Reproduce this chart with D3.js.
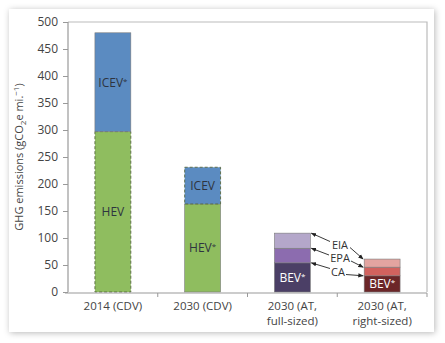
<!DOCTYPE html>
<html>
<head>
<meta charset="utf-8">
<script src="https://cdn.jsdelivr.net/npm/d3@7"></script>
<style>
  body { margin: 0; background: #fff; }
  svg { display: block; font-family: "Open Sans", sans-serif; }
</style>
</head>
<body>
<script>
const categories = ["2014 (CDV)", "2030 (CDV)", "2030 (AT, full-sized)", "2030 (AT, right-sized)"];
// stacked pieces, bottom to top
const baseValues = [297, 163, 54, 30];
const midValues = [183, 68, 27, 16];
const topValues = [0, 0, 28, 15];
const baseLabels = ["HEV", "HEV*", "BEV*", "BEV*"];
const midLabels = ["ICEV*", "ICEV", "", ""];
const yTicks = [0, 50, 100, 150, 200, 250, 300, 350, 400, 450, 500];
const gridLabels = ["EIA", "EPA", "CA"];

const colors = {
  base: ["#8fbd5f", "#8fbd5f", "#4b3f66", "#6c2628"],
  mid: ["#5b8bc1", "#5b8bc1", "#8c6caf", "#d2625e"],
  top: ["none", "none", "#b4a7ca", "#e3a4a0"]
};
const dashed = {
  base: [true, false, false, false],
  mid: [false, true, false, false],
  top: [false, false, false, false]
};

const W = 445, H = 343;
const svg = d3.select('body').append('svg').attr('width', W).attr('height', H);

// panel with shadow
const defs = svg.append('defs');
const f = defs.append('filter').attr('id', 'sh').attr('x', '-5%').attr('y', '-5%').attr('width', '110%').attr('height', '110%');
f.append('feDropShadow').attr('dx', 1).attr('dy', 1).attr('stdDeviation', 3).attr('flood-color', '#000').attr('flood-opacity', 0.28);
defs.append('marker').attr('id', 'ah').attr('viewBox', '0 0 10 10').attr('refX', 9).attr('refY', 5)
  .attr('markerWidth', 6).attr('markerHeight', 6).attr('orient', 'auto')
  .append('path').attr('d', 'M0,1 L10,5 L0,9 Z').attr('fill', '#222');

svg.append('rect').attr('x', 9).attr('y', 9).attr('width', 425).attr('height', 323)
  .attr('fill', '#fff').attr('filter', 'url(#sh)');

const pLeft = 68, pRight = 427, pTop = 22, pBottom = 292;
const x = d3.scaleBand().domain(categories).range([pLeft, pRight]).paddingInner(0.6).paddingOuter(0.3);
const y = d3.scaleLinear().domain([0, 500]).range([pBottom, pTop]);

const rows = categories.map((c, i) => ({ cat: c, i: i, base: baseValues[i], mid: midValues[i], top: topValues[i] }));
const stack = d3.stack().keys(['base', 'mid', 'top'])(rows);

// frame top and right
svg.append('path').attr('d', `M${pLeft},${pTop}H${pRight}V${pBottom}`).attr('fill', 'none').attr('stroke', '#bbb').attr('stroke-width', 1.2);

// bars
stack.forEach(layer => {
  svg.append('g').selectAll('rect')
    .data(layer.filter(d => d[1] > d[0]))
    .enter().append('rect')
    .attr('x', d => x(d.data.cat))
    .attr('width', x.bandwidth())
    .attr('y', d => y(d[1]))
    .attr('height', d => y(d[0]) - y(d[1]))
    .attr('fill', d => colors[layer.key][d.data.i])
    .attr('stroke', d => dashed[layer.key][d.data.i] ? '#56663f' : '#7a7a7a')
    .attr('stroke-width', d => dashed[layer.key][d.data.i] ? 0.9 : 0.6)
    .attr('stroke-dasharray', d => dashed[layer.key][d.data.i] ? '3,2' : null);
});

// labels inside bars
function starLabel(sel, txt) {
  if (txt.endsWith('*')) {
    sel.text(txt.slice(0, -1));
    sel.append('tspan').attr('font-size', '8px').attr('dy', '-3').text('*');
  } else sel.text(txt);
}
const inner = [
  { layer: stack[0], labels: baseLabels },
  { layer: stack[1], labels: midLabels }
];
inner.forEach(o => {
  o.layer.forEach((d, i) => {
    if (!o.labels[i]) return;
    const dark = i >= 2;
    const t = svg.append('text')
      .attr('x', x(d.data.cat) + x.bandwidth() / 2)
      .attr('y', (y(d[0]) + y(d[1])) / 2 + 4.5)
      .attr('text-anchor', 'middle')
      .attr('font-size', '12px')
      .attr('fill', dark ? '#fff' : '#2e3440');
    starLabel(t, o.labels[i]);
  });
});

// y axis
const yAxis = d3.axisLeft(y).tickValues(yTicks).tickSize(5).tickPadding(5);
const gy = svg.append('g').attr('transform', `translate(${pLeft},0)`).call(yAxis);
gy.select('.domain').attr('stroke', '#999').attr('stroke-width', 1.2).attr('d', `M0,${pTop}V${pBottom}`);
gy.selectAll('.tick line').attr('stroke', '#999');
gy.selectAll('.tick text').attr('font-size', '12px').attr('fill', '#444').attr('font-family', '"Open Sans", sans-serif');

// x axis
svg.append('line').attr('x1', pLeft - 3).attr('x2', pRight).attr('y1', pBottom + 1).attr('y2', pBottom + 1)
  .attr('stroke', '#999').attr('stroke-width', 1.2);
const bounds = categories.map(c => x(c) + x.bandwidth() + x.step() * x.paddingInner() / 2);
svg.append('g').selectAll('line').data(bounds).enter().append('line')
  .attr('x1', d => d).attr('x2', d => d).attr('y1', pBottom + 1).attr('y2', pBottom + 5)
  .attr('stroke', '#999');
categories.forEach(c => {
  const parts = c.includes(', ') ? [c.split(', ')[0] + ',', c.split(', ')[1]] : [c];
  parts.forEach((p, k) => {
    svg.append('text').attr('text-anchor', 'middle').attr('font-size', '11.5px').attr('fill', '#444')
      .attr('x', x(c) + x.bandwidth() / 2).attr('y', pBottom + 18 + k * 14.5).text(p);
  });
});

// y label
const yl = svg.append('text')
  .attr('transform', `translate(23,${(pTop + pBottom) / 2}) rotate(-90)`)
  .attr('text-anchor', 'middle').attr('font-size', '11px').attr('fill', '#444');
yl.append('tspan').text('GHG emissions (gCO');
yl.append('tspan').attr('font-size', '8px').attr('dy', 3).text('2');
yl.append('tspan').attr('dy', -3).text('e mi.');
yl.append('tspan').attr('font-size', '8px').attr('dy', -4).text('\u22121');
yl.append('tspan').attr('dy', 4).text(')');

// grid-mix arrows
const c3 = categories[2], c4 = categories[3];
const fullTops = [y(baseValues[2] + midValues[2] + topValues[2]), y(baseValues[2] + midValues[2]), y(baseValues[2])];
const rightTops = [y(baseValues[3] + midValues[3] + topValues[3]), y(baseValues[3] + midValues[3]), y(baseValues[3])];
const labelY = [244.5, 258, 271.5];
const labelX = [340, 340, 338];
const halfW = [9, 10, 7];
gridLabels.forEach((g, i) => {
  svg.append('text').attr('x', labelX[i]).attr('y', labelY[i] + 4).attr('text-anchor', 'middle')
    .attr('font-size', '11px').attr('fill', '#333').text(g);
  svg.append('line')
    .attr('x1', labelX[i] - halfW[i] - 1).attr('y1', labelY[i] - 3)
    .attr('x2', x(c3) + x.bandwidth() + 1).attr('y2', fullTops[i])
    .attr('stroke', '#222').attr('stroke-width', 0.9).attr('marker-end', 'url(#ah)');
  svg.append('line')
    .attr('x1', labelX[i] + halfW[i] + 1).attr('y1', labelY[i] + 3)
    .attr('x2', x(c4) - 1).attr('y2', rightTops[i])
    .attr('stroke', '#222').attr('stroke-width', 0.9).attr('marker-end', 'url(#ah)');
});
</script>
</body>
</html>
